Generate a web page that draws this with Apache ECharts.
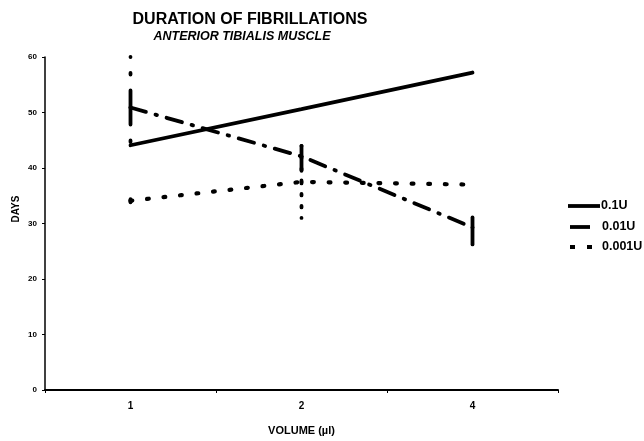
<!DOCTYPE html>
<html>
<head>
<meta charset="utf-8">
<script src="https://cdn.jsdelivr.net/npm/echarts@6/dist/echarts.min.js"></script>
<style>html,body{margin:0;padding:0;background:#fff}#c{width:644px;height:441px}</style>
</head>
<body>
<div id="c"></div>
<script>
// ---- data ----
var categories = ['1', '2', '4'];
var yTicks = [0, 10, 20, 30, 40, 50, 60];
var s01 = [44.1, 50.6, 57.2];          // 0.1U
var s001 = [50.9, 42.1, 29.3];         // 0.01U
var s0001 = [34.1, 37.5, 37.0];        // 0.001U
var err001Low = [42.0, 39.5, 26.2];
var err001High = [60.0, 44.0, 31.1];
var err0001Low = [33.2, 31.0, null];
var err0001High = [35.0, 44.0, null];
var seriesNames = ['0.1U', '0.01U', '0.001U'];

var FONT = '"Liberation Sans", Arial, sans-serif';
var DASHDOT = [16, 10, 1.5, 10];
var DOTS = [1.8, 14.8];
var BAR_DASHDOT = [17, 16, 1.5, 16, 1.5, 16];
var BAR_DOTS = [1.5, 10.5];

function errData(mean, lo, hi) {
  var out = [];
  for (var i = 0; i < mean.length; i++) {
    if (lo[i] == null) continue;
    out.push([i, mean[i], lo[i], hi[i]]);
  }
  return out;
}
function errRender(dash) {
  return function (params, api) {
    var x = api.value(0);
    var m = api.coord([x, api.value(1)]);
    var lo = api.coord([x, api.value(2)]);
    var hi = api.coord([x, api.value(3)]);
    var st = {stroke: '#000', lineWidth: 3.8, lineCap: 'round', lineDash: dash, fill: null};
    return {type: 'group', children: [
      {type: 'line', shape: {x1: m[0], y1: m[1], x2: lo[0], y2: lo[1]}, style: st},
      {type: 'line', shape: {x1: m[0], y1: m[1], x2: hi[0], y2: hi[1]}, style: st}
    ]};
  };
}

// legend drawn as graphic (line sample + series name)
var legendRows = [
  {y: 206, x1: 568, x2: 600, dash: null, tx: 601},
  {y: 227, x1: 570, x2: 590, dash: null, tx: 602},
  {y: 247, x1: 570, x2: 592, dash: [5, 12], tx: 602}
];
var legendGraphics = [];
legendRows.forEach(function (r, i) {
  legendGraphics.push({type: 'line', shape: {x1: r.x1, y1: r.y, x2: r.x2, y2: r.y},
    style: {stroke: '#000', lineWidth: 3.8, lineDash: r.dash, fill: null}});
  legendGraphics.push({type: 'text', x: r.tx, y: r.y, style: {text: seriesNames[i], fill: '#000',
    font: 'bold 12.5px ' + FONT, textAlign: 'left', textVerticalAlign: 'middle'}});
});

var chart = echarts.init(document.getElementById('c'));
chart.setOption({
  animation: false,
  backgroundColor: '#fff',
  textStyle: {fontFamily: FONT},
  grid: {left: 45, right: 86, top: 57, bottom: 48, containLabel: false},
  graphic: [
    {type: 'text', x: 250, y: 20, style: {text: 'DURATION OF FIBRILLATIONS', fill: '#000',
      font: 'bold 16px ' + FONT, textAlign: 'center', textVerticalAlign: 'middle'}},
    {type: 'text', x: 242, y: 37, style: {text: 'ANTERIOR TIBIALIS MUSCLE', fill: '#000',
      font: 'italic bold 12.5px ' + FONT, textAlign: 'center', textVerticalAlign: 'middle'}},
    {type: 'text', x: 16, y: 209, rotation: Math.PI / 2, style: {text: 'DAYS', fill: '#000',
      font: 'bold 10px ' + FONT, textAlign: 'center', textVerticalAlign: 'middle'}}
  ].concat(legendGraphics),
  xAxis: {
    type: 'category', data: categories, boundaryGap: true,
    name: 'VOLUME (\u00b5l)', nameLocation: 'middle', nameGap: 35,
    nameTextStyle: {color: '#000', fontWeight: 'bold', fontSize: 11, fontFamily: FONT},
    axisLine: {lineStyle: {color: '#000', width: 2}},
    axisTick: {show: true, length: 3, lineStyle: {color: '#000'}},
    axisLabel: {color: '#000', fontWeight: 'bold', fontSize: 10, margin: 11, fontFamily: FONT},
    splitLine: {show: false}
  },
  yAxis: {
    type: 'value', min: yTicks[0], max: yTicks[yTicks.length - 1], interval: 10,
    axisLine: {show: true, lineStyle: {color: '#000', width: 1.5}},
    axisTick: {show: true, length: 3, lineStyle: {color: '#000'}},
    axisLabel: {color: '#000', fontWeight: 'bold', fontSize: 8, margin: 8, fontFamily: FONT},
    splitLine: {show: false}
  },
  series: [
    {name: seriesNames[0], type: 'line', data: s01, symbol: 'none', z: 3,
      lineStyle: {color: '#000', width: 3.8, type: 'solid', cap: 'round'},
      itemStyle: {color: '#000'}},
    {name: seriesNames[1], type: 'line', data: s001, symbol: 'none', z: 3,
      lineStyle: {color: '#000', width: 3.8, type: DASHDOT, cap: 'round'},
      itemStyle: {color: '#000'}},
    {name: seriesNames[2], type: 'line', data: s0001, symbol: 'none', z: 3,
      lineStyle: {color: '#000', width: 4.2, type: DOTS, cap: 'round'},
      itemStyle: {color: '#000'}},
    {name: 'err001', type: 'custom', z: 4, renderItem: errRender(BAR_DASHDOT),
      data: errData(s001, err001Low, err001High), encode: {x: 0, y: [1, 2, 3]}},
    {name: 'err0001', type: 'custom', z: 4, renderItem: errRender(BAR_DOTS),
      data: errData(s0001, err0001Low, err0001High), encode: {x: 0, y: [1, 2, 3]}}
  ]
});
</script>
</body>
</html>
